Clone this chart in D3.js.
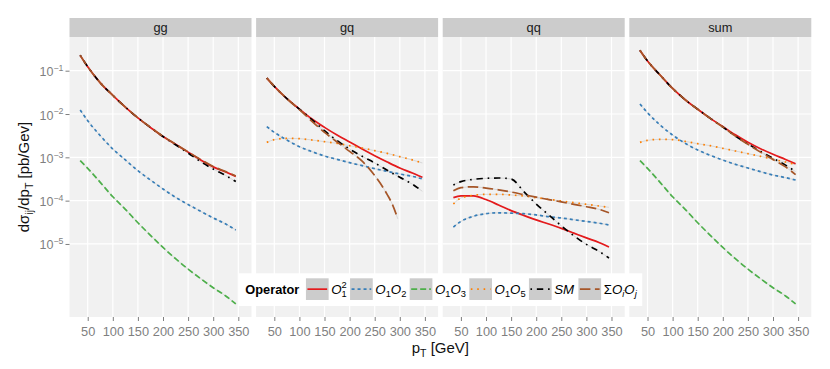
<!DOCTYPE html>
<html>
<head>
<meta charset="utf-8">
<script src="https://cdn.jsdelivr.net/npm/d3@7"></script>
<style>
body{margin:0;background:#fff}
svg{font-family:'Liberation Sans',Arial,Helvetica,sans-serif}
</style>
</head>
<body>
<div class="chart"></div>
<script>
// pT grid [GeV] the curves were read at
const pT=[35,50,75,100,125,150,175,200,225,250,275,300,325,345]
const pTgqSum=[35,50,75,100,125,150,175,200,225,250,275,285,296]

const facets=['gg','gq','qq','sum']
const xTicks=[50,100,150,200,250,300,350]
const yTickExp=[-1,-2,-3,-4,-5]

// operator legend: label parts [text, role]
const opLabels=[
	[['O','i'],['1','sub'],['2','supOver']],
	[['O','i'],['1','sub'],['O','i'],['2','sub']],
	[['O','i'],['1','sub'],['O','i'],['3','sub']],
	[['O','i'],['1','sub'],['O','i'],['5','sub']],
	[['SM','i']],
	[['\u03A3',''],['O','i'],['i','isub'],['O','i'],['j','isub']]
]
const opColors=['#E41A1C','#377EB8','#4DAF4A','#FF7F00','#000000','#A65628']
const opDash=[null,'3,3','6,3','1.6,4.8','1.6,4.8,6.4,4.8','10.5,4.5']

// log10( dsigma/dpT [pb/GeV] )
const gg_O11=[-0.645,-0.91,-1.28,-1.57,-1.84,-2.09,-2.31,-2.52,-2.70,-2.88,-3.06,-3.22,-3.34,-3.44]
const gg_O12=[-1.908,-2.154,-2.50,-2.808,-3.06,-3.308,-3.523,-3.73,-3.923,-4.09,-4.246,-4.40,-4.538,-4.677]
const gg_O13=[-3.077,-3.254,-3.577,-3.91,-4.20,-4.51,-4.80,-5.08,-5.34,-5.58,-5.80,-6.01,-6.20,-6.385]
const gg_SM=[-0.645,-0.91,-1.28,-1.57,-1.84,-2.09,-2.31,-2.52,-2.71,-2.90,-3.10,-3.27,-3.42,-3.56]
const gg_sum=[-0.645,-0.91,-1.28,-1.57,-1.84,-2.09,-2.305,-2.515,-2.695,-2.875,-3.05,-3.21,-3.33,-3.43]

const gq_O11=[-1.169,-1.362,-1.646,-1.885,-2.115,-2.308,-2.485,-2.646,-2.808,-2.962,-3.108,-3.246,-3.362,-3.462]
const gq_O12=[-2.292,-2.423,-2.60,-2.754,-2.869,-2.969,-3.046,-3.123,-3.192,-3.262,-3.323,-3.385,-3.438,-3.50]
const gq_O15=[-2.654,-2.592,-2.562,-2.569,-2.60,-2.638,-2.677,-2.731,-2.785,-2.846,-2.908,-2.985,-3.06,-3.13]
const gq_SM=[-1.169,-1.362,-1.646,-1.885,-2.13,-2.385,-2.615,-2.808,-2.977,-3.13,-3.30,-3.46,-3.62,-3.785]
const gq_sum=[-1.169,-1.362,-1.646,-1.90,-2.17,-2.423,-2.646,-2.862,-3.09,-3.42,-3.86,-4.08,-4.42]

const qq_O11=[-3.93,-3.89,-3.89,-3.975,-4.10,-4.23,-4.34,-4.445,-4.54,-4.64,-4.75,-4.86,-4.965,-5.07]
const qq_O12=[-4.61,-4.48,-4.36,-4.30,-4.28,-4.29,-4.30,-4.33,-4.37,-4.40,-4.44,-4.48,-4.52,-4.56]
const qq_O15=[-4.077,-3.938,-3.877,-3.854,-3.854,-3.869,-3.892,-3.931,-3.969,-4.008,-4.046,-4.085,-4.123,-4.154]
const qq_SM=[-3.638,-3.562,-3.508,-3.485,-3.477,-3.50,-3.785,-4.077,-4.33,-4.58,-4.81,-5.01,-5.17,-5.323]
const qq_sum=[-3.77,-3.70,-3.68,-3.71,-3.75,-3.80,-3.86,-3.92,-3.975,-4.03,-4.085,-4.14,-4.20,-4.28]

const sum_O11=[-0.53,-0.775,-1.10,-1.41,-1.67,-1.89,-2.10,-2.29,-2.48,-2.65,-2.80,-2.93,-3.05,-3.15]
const sum_O12=[-1.769,-1.969,-2.254,-2.485,-2.677,-2.831,-2.954,-3.062,-3.162,-3.246,-3.331,-3.408,-3.469,-3.523]
const sum_O13=[-3.077,-3.254,-3.577,-3.91,-4.20,-4.51,-4.80,-5.08,-5.34,-5.58,-5.80,-6.01,-6.20,-6.385]
const sum_O15=[-2.654,-2.608,-2.585,-2.592,-2.631,-2.685,-2.731,-2.792,-2.854,-2.915,-2.977,-3.046,-3.108,-3.169]
const sum_SM=[-0.53,-0.775,-1.10,-1.41,-1.67,-1.89,-2.10,-2.30,-2.51,-2.69,-2.86,-3.02,-3.18,-3.33]
const sum_sum=[-0.53,-0.775,-1.10,-1.41,-1.67,-1.89,-2.10,-2.30,-2.51,-2.70,-2.88,-3.05,-3.22,-3.40]

// op index: 0 O1^2, 1 O1O2, 2 O1O3, 3 O1O5, 4 SM, 5 sum
const series=[
	{facet:0,op:0,x:pT,y:gg_O11},{facet:0,op:1,x:pT,y:gg_O12},{facet:0,op:2,x:pT,y:gg_O13},
	{facet:0,op:4,x:pT,y:gg_SM},{facet:0,op:5,x:pT,y:gg_sum},
	{facet:1,op:0,x:pT,y:gq_O11},{facet:1,op:1,x:pT,y:gq_O12},{facet:1,op:3,x:pT,y:gq_O15},
	{facet:1,op:4,x:pT,y:gq_SM},{facet:1,op:5,x:pTgqSum,y:gq_sum},
	{facet:2,op:0,x:pT,y:qq_O11},{facet:2,op:1,x:pT,y:qq_O12},{facet:2,op:3,x:pT,y:qq_O15},
	{facet:2,op:4,x:pT,y:qq_SM},{facet:2,op:5,x:pT,y:qq_sum},
	{facet:3,op:0,x:pT,y:sum_O11},{facet:3,op:1,x:pT,y:sum_O12},{facet:3,op:2,x:pT,y:sum_O13},
	{facet:3,op:3,x:pT,y:sum_O15},{facet:3,op:4,x:pT,y:sum_SM},{facet:3,op:5,x:pT,y:sum_sum}
]

const width=830,height=369
const panelW=182,gap=4.6,left0=69.5
const stripTop=18,plotTop=37,plotBottom=317
const grey='#7F7F7F'

const svg=d3.select('.chart').append('svg')
	.attr('width',width)
	.attr('height',height)

const yScale=d3.scaleLog()
	.domain([Math.pow(10,-6.686),Math.pow(10,-0.222)])
	.range([plotBottom,plotTop])

const line=(x)=>d3.line()
	.x(d=>x(d[0]))
	.y(d=>yScale(Math.pow(10,d[1])))
	.curve(d3.curveMonotoneX)

facets.forEach((f,i)=>{
	const left=left0+i*(panelW+gap)
	const x=d3.scaleLinear().domain([13.7,376.3]).range([left,left+panelW])
	const g=svg.append('g').attr('class','panel-'+f)

	g.append('rect')
		.attr('x',left).attr('y',plotTop)
		.attr('width',panelW).attr('height',plotBottom-plotTop)
		.attr('fill','#F1F1F1')

	g.selectAll('.vgrid').data(xTicks).enter().append('line')
		.attr('class','vgrid')
		.attr('x1',d=>x(d)).attr('x2',d=>x(d))
		.attr('y1',plotTop).attr('y2',plotBottom)
		.attr('stroke','#fff').attr('stroke-width',1.2)

	g.selectAll('.hgrid').data(yTickExp).enter().append('line')
		.attr('class','hgrid')
		.attr('x1',left).attr('x2',left+panelW)
		.attr('y1',d=>yScale(Math.pow(10,d))).attr('y2',d=>yScale(Math.pow(10,d)))
		.attr('stroke','#fff').attr('stroke-width',1.2)

	// strip
	g.append('rect')
		.attr('x',left).attr('y',stripTop)
		.attr('width',panelW).attr('height',plotTop-stripTop)
		.attr('fill','#CCCCCC')
	g.append('text')
		.attr('x',left+panelW/2).attr('y',31.5)
		.attr('text-anchor','middle')
		.style('font-size','12.8px')
		.attr('fill','#1A1A1A')
		.text(f)

	const mine=series.filter(s=>s.facet===i).sort((a,b)=>a.op-b.op)
	const pts=s=>s.x.map((v,k)=>[v,s.y[k]])

	// faint underlay seen between the dashes
	g.selectAll('.under').data(mine).enter().append('path')
		.attr('class','under')
		.attr('d',s=>line(x)(pts(s)))
		.attr('fill','none')
		.attr('stroke','#D4D4D4')
		.attr('stroke-width',0.9)

	g.selectAll('.curve').data(mine).enter().append('path')
		.attr('class','curve')
		.attr('d',s=>line(x)(pts(s)))
		.attr('fill','none')
		.attr('stroke',s=>opColors[s.op])
		.attr('stroke-width',1.7)
		.attr('stroke-dasharray',s=>opDash[s.op])

	const xAxis=d3.axisBottom(x).tickValues(xTicks).tickSize(4).tickPadding(6)
	const ax=g.append('g')
		.attr('transform',`translate(0,${plotBottom})`)
		.call(xAxis)
	ax.select('.domain').remove()
	ax.selectAll('line').attr('stroke',grey).attr('stroke-width',1)
	ax.selectAll('text').attr('fill',grey).style('font-size','12.8px')
		.attr('font-family',null)
})

// y axis on first panel
const yAxis=d3.axisLeft(yScale)
	.tickValues(yTickExp.map(e=>Math.pow(10,e)))
	.tickSize(4).tickPadding(2)
	.tickFormat(()=>'')
const yax=svg.append('g')
	.attr('transform',`translate(${left0},0)`)
	.call(yAxis)
yax.select('.domain').remove()
yax.selectAll('line').attr('stroke',grey)
yax.selectAll('text').each(function(d){
	const t=d3.select(this).attr('fill',grey).attr('font-family',null).attr('dy','0.5em')
	t.append('tspan').style('font-size','12.5px').text('10')
	t.append('tspan').style('font-size','8.8px').attr('dy','-0.6em')
		.text('\u2212'+Math.round(-Math.log10(d)))
})

// axis titles
const yTitle=svg.append('text')
	.attr('transform',`translate(29,${(plotTop+plotBottom)/2}) rotate(-90)`)
	.attr('text-anchor','middle')
	.style('font-size','15px')
	.attr('fill','#111')
yTitle.append('tspan').text('d\u03C3')
yTitle.append('tspan').style('font-size','10.5px').attr('dy',4).text('ij')
yTitle.append('tspan').attr('dy',-4).text('/dp')
yTitle.append('tspan').style('font-size','10.5px').attr('dy',4).text('T')
yTitle.append('tspan').attr('dy',-4).text(' [pb/Gev]')

const plotMid=(left0+left0+4*panelW+3*gap)/2
const xTitle=svg.append('text')
	.attr('x',plotMid).attr('y',353)
	.attr('text-anchor','middle')
	.style('font-size','15px')
	.attr('fill','#111')
xTitle.append('tspan').text('p')
xTitle.append('tspan').style('font-size','10.5px').attr('dy',4).text('T')
xTitle.append('tspan').attr('dy',-4).text(' [GeV]')

// legend
const legTop=273.3,legH=32.7,keyW=22.7,keyH=21.7,keyTop=278.3,base=294.3
const leg=svg.append('g').attr('class','legend')
const legBg=leg.append('rect').attr('y',legTop).attr('height',legH).attr('fill','#fff')
const title=leg.append('text')
	.attr('x',0).attr('y',base)
	.style('font-size','12.8px').style('font-weight','bold')
	.text('Operator')
let cx=title.node().getComputedTextLength()+6.6
opLabels.forEach((parts,k)=>{
	leg.append('rect')
		.attr('x',cx).attr('y',keyTop)
		.attr('width',keyW).attr('height',keyH)
		.attr('fill','#CCCCCC')
	leg.append('line')
		.attr('x1',cx+1.5).attr('x2',cx+keyW-1.5)
		.attr('y1',keyTop+keyH/2).attr('y2',keyTop+keyH/2)
		.attr('stroke',opColors[k]).attr('stroke-width',1.7)
		.attr('stroke-dasharray',opDash[k])
	const t=leg.append('text').attr('x',cx+keyW+2.6).attr('y',base)
		.style('font-size','13.3px')
	let subW=0
	parts.forEach(([s,role])=>{
		const sp=t.append('tspan').text(s)
		if(role==='i') sp.style('font-style','italic').attr('y',base)
		else if(role===''){sp.attr('y',base)}
		else if(role==='sub'||role==='isub'){
			sp.style('font-size','9.3px').attr('y',base+3)
			if(role==='isub') sp.style('font-style','italic')
			subW=sp.node().getComputedTextLength()
		}
		else if(role==='supOver'){
			sp.style('font-size','9.3px').attr('y',base-6).attr('dx',-subW)
		}
	})
	cx+=keyW+2.6+t.node().getBBox().width+3.3
})
const legW=cx-3.3+4.5+6.7
legBg.attr('x',-6.7).attr('width',legW)
leg.attr('transform',`translate(${plotMid-legW/2+6.7},0)`)
</script>
</body>
</html>
